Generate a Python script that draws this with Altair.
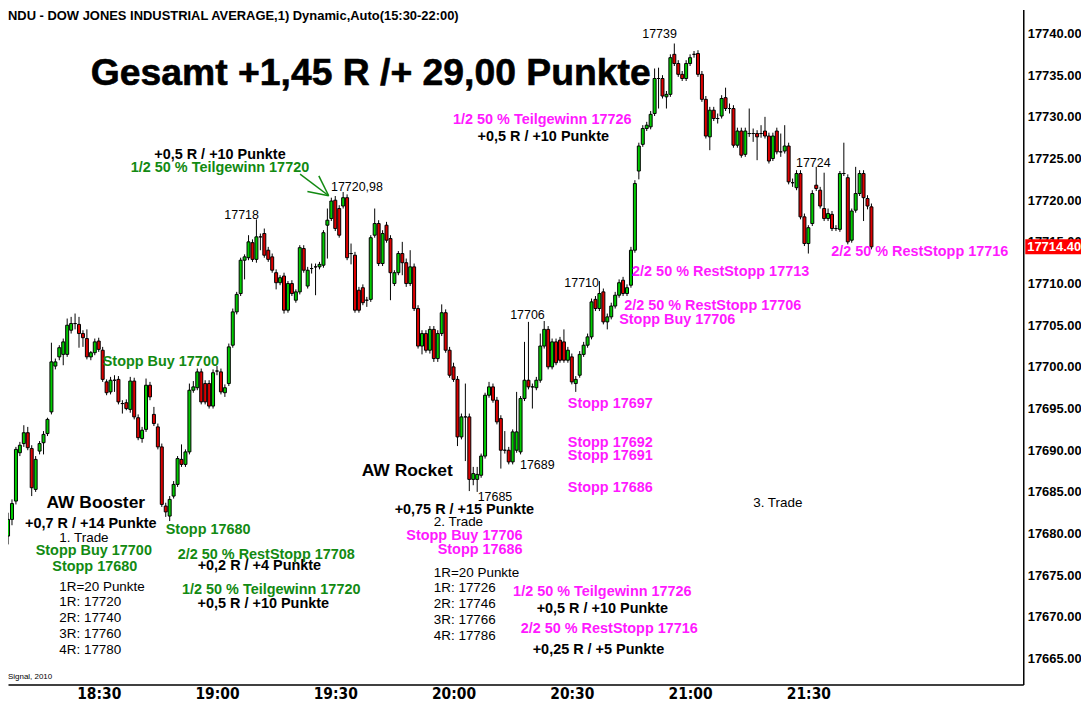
import altair as alt
import pandas as pd

# ---------------- data ----------------
FIRST_BAR = "18:07"   # time of the first 1-minute bar

OPEN = [
    17679.7, 17681.7, 17683.9, 17689.7, 17690.8, 17692.1, 17690.2, 17685.3, 17689.9, 17690.9,
    17692.0, 17694.6, 17700.1, 17701.2, 17701.5, 17701.5, 17704.4, 17705.2, 17705.1, 17704.0,
    17703.4, 17701.2, 17701.7, 17703.1, 17702.0, 17698.2, 17697.0, 17698.4, 17698.5, 17695.6,
    17695.7, 17694.9, 17698.3, 17693.9, 17691.4, 17692.5, 17697.8, 17694.3, 17692.8, 17690.4,
    17683.3, 17682.1, 17684.5, 17685.9, 17688.9, 17688.3, 17689.8, 17697.2, 17697.5, 17699.4,
    17698.0, 17698.0, 17695.3, 17699.5, 17699.4, 17696.9, 17698.0, 17702.6, 17706.6, 17708.8,
    17712.8, 17713.1, 17714.9, 17712.9, 17715.6, 17716.0, 17714.0, 17713.2, 17711.3, 17710.1,
    17710.9, 17706.8, 17710.0, 17708.0, 17709.0, 17714.2, 17709.7, 17711.8, 17712.0, 17712.0,
    17712.2, 17717.0, 17717.8, 17720.0, 17719.0, 17719.3, 17720.3, 17713.6, 17713.4, 17709.2,
    17709.5, 17708.0, 17708.1, 17715.8, 17717.2, 17712.4, 17717.0, 17715.4, 17710.0, 17711.3,
    17713.6, 17712.5, 17710.0, 17712.0, 17707.0, 17702.5, 17704.0, 17702.0, 17704.5, 17701.0,
    17704.0, 17706.5, 17702.0, 17700.0, 17698.5, 17691.6, 17694.0, 17694.0, 17686.5, 17686.5,
    17687.0, 17689.3, 17696.6, 17697.6, 17696.0, 17693.8, 17690.0, 17690.0, 17688.6, 17690.0,
    17689.8, 17696.2, 17698.4, 17697.6, 17697.5, 17698.4, 17702.5, 17704.5, 17700.0, 17703.0,
    17703.2, 17703.0, 17700.8, 17701.2, 17698.0, 17699.0, 17701.5, 17702.6, 17703.6, 17708.1,
    17707.0, 17709.0, 17705.4, 17706.0, 17707.3, 17708.6, 17710.4, 17708.8, 17709.8, 17714.0,
    17723.5, 17726.7, 17728.6, 17728.8, 17730.4, 17734.6, 17734.6, 17732.4, 17732.7, 17737.5,
    17736.4, 17735.1, 17734.6, 17736.4, 17737.5, 17737.6, 17735.1, 17732.1, 17727.6, 17730.8,
    17729.8, 17730.1, 17732.3, 17731.0, 17731.0, 17726.6, 17728.3, 17725.5, 17728.0, 17728.0,
    17728.0, 17728.0, 17728.3, 17727.7, 17725.0, 17728.3, 17725.8, 17725.9, 17726.5, 17722.1,
    17721.5, 17723.2, 17718.0, 17714.8, 17717.2, 17721.8, 17721.2, 17719.0, 17717.8, 17718.3,
    17716.6, 17716.5, 17723.2, 17722.7, 17715.2, 17718.8, 17720.8, 17723.2, 17720.2, 17719.2,
]
HIGH = [
    17682.5, 17684.1, 17690.4, 17691.0, 17693.0, 17692.8, 17690.6, 17689.3, 17691.1, 17692.3,
    17693.9, 17702.9, 17701.0, 17702.6, 17703.4, 17705.8, 17706.0, 17706.4, 17706.0, 17704.4,
    17704.5, 17701.9, 17703.4, 17703.5, 17702.4, 17698.5, 17698.8, 17699.0, 17698.9, 17696.0,
    17696.1, 17698.8, 17698.7, 17694.3, 17692.8, 17698.6, 17698.2, 17695.2, 17693.2, 17690.8,
    17683.7, 17684.5, 17686.3, 17689.3, 17690.7, 17690.1, 17698.0, 17698.3, 17699.8, 17699.8,
    17698.4, 17698.4, 17699.7, 17700.1, 17699.8, 17697.9, 17702.8, 17707.0, 17709.0, 17713.1,
    17713.5, 17715.8, 17715.3, 17717.7, 17716.0, 17716.6, 17714.4, 17713.6, 17711.7, 17711.0,
    17711.3, 17710.3, 17710.4, 17709.3, 17714.6, 17714.6, 17712.0, 17712.4, 17712.4, 17712.6,
    17716.4, 17719.0, 17720.3, 17720.5, 17719.4, 17720.98, 17720.7, 17714.8, 17713.8, 17709.6,
    17709.9, 17708.4, 17715.8, 17719.0, 17717.6, 17716.4, 17717.4, 17715.8, 17711.6, 17713.9,
    17715.0, 17713.0, 17714.0, 17712.4, 17707.4, 17704.4, 17704.4, 17704.9, 17704.9, 17704.4,
    17707.5, 17706.9, 17702.4, 17700.5, 17698.9, 17694.4, 17698.0, 17694.4, 17688.0, 17688.0,
    17689.6, 17696.9, 17698.2, 17698.0, 17696.4, 17694.2, 17692.3, 17690.4, 17692.5, 17697.0,
    17696.5, 17703.0, 17705.4, 17698.0, 17698.8, 17704.0, 17705.5, 17704.9, 17703.4, 17703.4,
    17703.6, 17704.5, 17702.4, 17701.6, 17698.9, 17701.9, 17703.0, 17704.0, 17708.2, 17708.5,
    17710.3, 17709.4, 17706.4, 17707.7, 17709.0, 17710.5, 17710.8, 17709.9, 17714.4, 17722.4,
    17726.9, 17729.0, 17729.4, 17730.7, 17735.8, 17735.9, 17735.0, 17733.1, 17737.5, 17738.8,
    17736.8, 17735.5, 17736.8, 17737.5, 17737.9, 17738.0, 17735.5, 17732.5, 17731.2, 17731.2,
    17730.4, 17732.6, 17733.5, 17731.6, 17731.4, 17728.7, 17728.7, 17728.7, 17731.0, 17728.6,
    17728.4, 17729.0, 17730.0, 17728.1, 17728.1, 17728.7, 17728.0, 17729.0, 17726.9, 17722.6,
    17723.6, 17723.6, 17718.4, 17717.0, 17721.2, 17724.0, 17721.6, 17723.3, 17719.0, 17718.7,
    17717.0, 17723.5, 17726.9, 17723.1, 17719.0, 17724.0, 17723.6, 17723.6, 17720.6, 17719.6,
]
LOW = [
    17678.7, 17681.0, 17683.5, 17689.3, 17690.4, 17690.0, 17684.5, 17685.0, 17689.5, 17689.5,
    17691.7, 17694.3, 17699.7, 17700.8, 17700.2, 17701.2, 17704.0, 17704.5, 17702.3, 17702.4,
    17700.9, 17700.8, 17701.4, 17701.8, 17698.2, 17696.6, 17696.7, 17697.0, 17695.5, 17694.4,
    17694.8, 17694.5, 17693.7, 17691.2, 17690.9, 17692.2, 17696.0, 17692.9, 17690.1, 17683.2,
    17682.0, 17681.5, 17684.2, 17685.6, 17688.0, 17688.0, 17689.5, 17696.9, 17697.2, 17695.5,
    17695.5, 17695.0, 17695.0, 17699.0, 17696.7, 17696.4, 17697.7, 17702.3, 17706.3, 17708.5,
    17710.5, 17712.8, 17712.6, 17712.5, 17714.0, 17713.1, 17712.6, 17711.3, 17709.3, 17709.8,
    17706.4, 17706.5, 17708.5, 17707.7, 17708.7, 17711.3, 17709.4, 17711.2, 17708.6, 17711.7,
    17711.9, 17713.0, 17717.5, 17716.3, 17715.5, 17719.0, 17712.8, 17712.3, 17706.5, 17706.5,
    17707.4, 17707.2, 17707.8, 17715.5, 17712.1, 17712.1, 17714.9, 17708.0, 17709.7, 17711.0,
    17711.0, 17709.6, 17709.7, 17706.7, 17702.2, 17701.5, 17701.7, 17701.6, 17700.6, 17700.6,
    17703.7, 17701.7, 17698.7, 17698.2, 17690.5, 17691.3, 17688.7, 17685.1, 17685.8, 17685.0,
    17686.7, 17689.0, 17696.3, 17695.7, 17693.1, 17687.8, 17689.6, 17688.3, 17688.3, 17689.7,
    17689.5, 17695.9, 17697.3, 17695.0, 17697.2, 17698.1, 17702.2, 17699.7, 17699.7, 17700.2,
    17700.5, 17700.5, 17700.5, 17697.9, 17697.0, 17698.7, 17701.2, 17702.3, 17703.3, 17706.7,
    17706.7, 17705.1, 17704.5, 17705.7, 17707.0, 17708.3, 17708.5, 17708.5, 17709.5, 17713.7,
    17722.5, 17726.4, 17728.3, 17728.5, 17730.1, 17731.0, 17732.2, 17731.0, 17732.4, 17736.1,
    17734.8, 17734.3, 17734.3, 17736.1, 17737.1, 17734.8, 17731.8, 17727.4, 17726.0, 17729.5,
    17729.2, 17729.8, 17730.7, 17730.4, 17726.3, 17726.3, 17725.1, 17725.2, 17727.6, 17727.0,
    17724.8, 17727.5, 17727.4, 17724.4, 17724.7, 17725.5, 17725.2, 17725.6, 17721.9, 17721.6,
    17721.2, 17717.7, 17714.5, 17713.6, 17716.9, 17721.1, 17719.0, 17717.5, 17717.5, 17716.3,
    17716.3, 17716.2, 17722.9, 17714.7, 17714.9, 17718.5, 17720.5, 17717.5, 17718.9, 17714.1,
]
CLOSE = [
    17681.7, 17683.6, 17690.1, 17690.6, 17692.1, 17690.3, 17685.5, 17688.9, 17690.8, 17691.9,
    17693.7, 17700.6, 17700.6, 17702.3, 17703.0, 17705.0, 17705.2, 17705.2, 17704.0, 17703.5,
    17701.2, 17701.7, 17703.0, 17702.1, 17698.5, 17696.9, 17698.4, 17698.4, 17695.8, 17695.6,
    17695.0, 17698.3, 17694.0, 17691.5, 17692.4, 17697.8, 17696.4, 17693.2, 17690.4, 17683.5,
    17682.6, 17684.1, 17685.9, 17689.0, 17688.3, 17689.8, 17697.2, 17697.6, 17699.4, 17695.8,
    17695.8, 17695.3, 17699.3, 17699.5, 17697.0, 17697.5, 17702.4, 17706.6, 17708.7, 17712.8,
    17713.2, 17715.0, 17712.9, 17715.6, 17715.6, 17713.4, 17712.9, 17711.6, 17710.1, 17710.7,
    17706.8, 17710.0, 17708.8, 17709.0, 17714.3, 17711.6, 17711.6, 17711.8, 17712.0, 17712.3,
    17716.1, 17717.6, 17719.9, 17716.6, 17715.8, 17720.3, 17713.1, 17713.6, 17706.8, 17706.8,
    17707.7, 17708.0, 17715.5, 17717.2, 17712.4, 17716.0, 17715.2, 17711.3, 17711.3, 17713.6,
    17712.5, 17710.0, 17712.0, 17707.0, 17702.5, 17704.0, 17702.0, 17704.5, 17701.0, 17704.0,
    17706.5, 17702.0, 17699.0, 17698.5, 17691.6, 17694.0, 17694.0, 17686.5, 17687.2, 17687.1,
    17689.3, 17696.6, 17697.6, 17696.0, 17693.4, 17690.0, 17690.0, 17688.6, 17692.2, 17692.2,
    17696.2, 17698.4, 17697.6, 17697.6, 17698.4, 17702.5, 17704.5, 17700.0, 17703.0, 17700.5,
    17700.8, 17700.8, 17702.0, 17698.2, 17698.5, 17701.5, 17702.6, 17703.6, 17707.8, 17707.0,
    17708.8, 17705.4, 17706.0, 17707.3, 17708.6, 17710.1, 17708.8, 17709.5, 17714.0, 17722.0,
    17726.5, 17728.6, 17729.0, 17730.3, 17734.6, 17734.6, 17732.5, 17732.7, 17737.1, 17736.4,
    17735.1, 17734.6, 17736.4, 17737.1, 17737.5, 17735.1, 17732.1, 17727.7, 17730.8, 17729.8,
    17729.8, 17732.2, 17731.0, 17731.0, 17726.6, 17728.3, 17725.4, 17728.3, 17728.0, 17728.0,
    17727.6, 17728.0, 17727.7, 17724.7, 17727.7, 17725.8, 17725.8, 17726.5, 17722.2, 17722.1,
    17723.2, 17718.0, 17714.8, 17716.7, 17720.8, 17721.4, 17719.3, 17717.8, 17718.4, 17716.6,
    17716.6, 17723.2, 17723.2, 17715.0, 17718.7, 17720.8, 17723.2, 17720.3, 17719.3, 17714.4,
]

LAST_PRICE = 17714.40
X_TICK_MIN = [1110, 1140, 1170, 1200, 1230, 1260, 1290]   # 18:30 ... 21:30
Y_TICKS = [17665, 17670, 17675, 17680, 17685, 17690, 17695, 17700,
           17705, 17710, 17715, 17720, 17725, 17730, 17735, 17740]
HEADER = "NDU - DOW JONES INDUSTRIAL AVERAGE,1) Dynamic,Auto(15:30-22:00)"
FOOTER = "Signal, 2010"

# annotations: text, time (minutes after midnight), price, colour key
K, G, M = "k", "g", "m"
BOLD_TXT = ["+0,5 R / +10 Punkte", "1/2 50 % Teilgewinn 17720", "1/2 50 % Teilgewinn 17726",
            "+0,5 R / +10 Punkte", "2/2 50 % RestStopp 17716", "2/2 50 % RestStopp 17713",
            "2/2 50 % RestStopp 17706", "Stopp Buy 17706", "Stopp Buy 17700", "Stopp 17697",
            "Stopp 17692", "Stopp 17691", "Stopp 17686", "+0,75 R / +15 Punkte",
            "Stopp Buy 17706", "Stopp 17686", "1/2 50 % Teilgewinn 17726", "+0,5 R / +10 Punkte",
            "2/2 50 % RestStopp 17716", "+0,25 R / +5 Punkte", "+0,7 R / +14 Punkte",
            "Stopp Buy 17700", "Stopp 17680", "Stopp 17680", "2/2 50 % RestStopp 17708",
            "+0,2 R / +4 Punkte", "1/2 50 % Teilgewinn 17720", "+0,5 R / +10 Punkte"]
BOLD_T = [1140.75, 1140.75, 1222.5, 1222.75, 1318.25, 1267.75, 1265.75, 1256.75, 1125.75, 1239.75,
          1239.75, 1239.75, 1239.75, 1202.75, 1202.75, 1206.75, 1237.75, 1237.75, 1239.5, 1236.75,
          1108.0, 1108.75, 1109.0, 1137.75, 1152.5, 1150.75, 1153.75, 1151.75]
BOLD_P = [17725.43, 17723.88, 17729.61, 17727.58, 17713.84, 17711.34, 17707.28, 17705.6, 17700.59,
          17695.57, 17690.91, 17689.36, 17685.42, 17682.79, 17679.69, 17678.01, 17673.0, 17670.97,
          17668.58, 17666.07, 17681.12, 17677.9, 17675.98, 17680.4, 17677.42, 17676.1, 17673.24,
          17671.57]
BOLD_C = [K, G, M, K, M, M, M, M, G, M, M, M, M, K, M, M, M, K, M, K, K, G, G, G, G, K, G, K]

TITLE_TXT = ["AW Booster", "AW Rocket"]
TITLE_T = [1109.25, 1188.25]
TITLE_P = [17683.63, 17687.45]

TOTAL_TXT = ["Gesamt +1,45 R /+ 29,00 Punkte"]
TOTAL_T = [1179.0]
TOTAL_P = [17735.1]

NOTE_TXT = ["1. Trade", "2. Trade", "3. Trade", "17720,98", "17718", "17739", "17724",
            "17710", "17706", "17689", "17685"]
NOTE_T = [1106.25, 1201.25, 1282.25, 1175.5, 1146.25, 1252.25, 1291.25, 1232.5, 1218.75,
          1221.25, 1210.5]
NOTE_P = [17679.45, 17681.36, 17683.63, 17721.6, 17718.26, 17739.88, 17724.47, 17710.02,
          17706.2, 17688.17, 17684.35]
NOTE_SIZE = [13.5, 13.5, 13.5, 12.5, 12.5, 12.5, 12.5, 12.5, 12.5, 12.5, 12.5]

R_TXT = ["1R=20 Punkte", "1R: 17720", "2R: 17740", "3R: 17760", "4R: 17780",
         "1R=20 Punkte", "1R: 17726", "2R: 17746", "3R: 17766", "4R: 17786"]
R_T = [1100.0] * 5 + [1195.0] * 5
R_P = [17673.6, 17671.8, 17669.89, 17667.98, 17666.07,
       17675.27, 17673.48, 17671.57, 17669.65, 17667.74]

ARROW_T0 = [1161.08, 1165.83, 1162.93]
ARROW_P0 = [17723.12, 17722.92, 17721.05]
ARROW_T1 = [1168.33, 1168.33, 1168.33]
ARROW_P1 = [17720.53, 17720.53, 17720.53]

# ---------------- styling ----------------
BAR_UP = "#00cc00"
BAR_DN = "#dd0000"
COLORS = {"k": "#000000", "g": "#128a12", "m": "#ff19ff"}
FONT = "Liberation Sans, Arial, sans-serif"
NARROW = "Liberation Sans Narrow, Arial Narrow, DejaVu Sans Condensed, sans-serif"
W, H = 1020, 678

hh, mm = FIRST_BAR.split(":")
t_first = int(hh) * 60 + int(mm)
bars = pd.DataFrame({
    "t": [t_first + i for i in range(len(OPEN))],
    "o": OPEN, "h": HIGH, "l": LOW, "c": CLOSE,
})
bars["dir"] = ["up" if c >= o else "down" for o, c in zip(OPEN, CLOSE)]

XS = alt.Scale(domain=[1088.25, 1343.25], nice=False, zero=False)
YS = alt.Scale(domain=[17661.895, 17742.866], nice=False, zero=False)

XAX = alt.Axis(values=X_TICK_MIN, title=None, grid=False, ticks=False,
               labelExpr="format(floor(datum.value/60),'d') + ':' + format(datum.value % 60,'02d')",
               domainColor="#000000", domainWidth=1.5, labelFont=NARROW, labelFontSize=15.5,
               labelFontWeight="bold", labelColor="#000000", labelPadding=2, labelFlush=False)
YAX = alt.Axis(orient="right", values=Y_TICKS, format=".2f", title=None, grid=False, ticks=False,
               domainColor="#000000", domainWidth=1.5, labelFont=FONT, labelFontSize=13,
               labelFontWeight="bold", labelColor="#000000", labelPadding=4, labelFlush=False)


def X(field):
    return alt.X(f"{field}:Q", scale=XS, axis=XAX)


def Y(field):
    return alt.Y(f"{field}:Q", scale=YS, axis=YAX)


base = alt.Chart(bars)
wicks = base.mark_rule(color="#000000", strokeWidth=1, clip=True).encode(
    x=X("t"), y=Y("l"), y2="h")
bodies = base.mark_bar(size=3, stroke="#000000", strokeWidth=1, clip=True).encode(
    x=X("t"), y=Y("o"), y2="c",
    color=alt.Color("dir:N", scale=alt.Scale(domain=["up", "down"], range=[BAR_UP, BAR_DN]),
                    legend=None))

bold_df = pd.DataFrame({"txt": BOLD_TXT, "t": BOLD_T, "p": BOLD_P,
                        "col": [COLORS[c] for c in BOLD_C]})
bold_layer = alt.Chart(bold_df).mark_text(font=FONT, fontSize=14.5, fontWeight="bold",
                                          align="center", baseline="middle").encode(
    x=X("t"), y=Y("p"), text="txt:N", color=alt.Color("col:N", scale=None))

title_layer = alt.Chart(pd.DataFrame({"txt": TITLE_TXT, "t": TITLE_T, "p": TITLE_P})).mark_text(
    font=FONT, fontSize=17.5, fontWeight="bold", align="center", baseline="middle",
    color="#000000").encode(x=X("t"), y=Y("p"), text="txt:N")

total_layer = alt.Chart(pd.DataFrame({"txt": TOTAL_TXT, "t": TOTAL_T, "p": TOTAL_P})).mark_text(
    font=FONT, fontSize=37.5, fontWeight="bold", align="center", baseline="middle",
    color="#000000", stroke="#000000", strokeWidth=0.6).encode(
    x=X("t"), y=Y("p"), text="txt:N")

note_layer = alt.Chart(pd.DataFrame({"txt": NOTE_TXT, "t": NOTE_T, "p": NOTE_P,
                                     "s": NOTE_SIZE})).mark_text(
    font=FONT, align="center", baseline="middle", color="#000000").encode(
    x=X("t"), y=Y("p"), text="txt:N", size=alt.Size("s:Q", scale=None))

r_layer = alt.Chart(pd.DataFrame({"txt": R_TXT, "t": R_T, "p": R_P})).mark_text(
    font=FONT, fontSize=13.5, align="left", baseline="middle", color="#000000").encode(
    x=X("t"), y=Y("p"), text="txt:N")

arrow_layer = alt.Chart(pd.DataFrame({"t0": ARROW_T0, "p0": ARROW_P0,
                                      "t1": ARROW_T1, "p1": ARROW_P1})).mark_rule(
    color="#128a12", strokeWidth=1.5).encode(x=X("t0"), y=Y("p0"), x2="t1", y2="p1")

header_layer = alt.Chart(pd.DataFrame({"txt": [HEADER]})).mark_text(
    font=FONT, fontSize=13, fontWeight="bold", align="left", baseline="top",
    color="#000000").encode(x=alt.value(0), y=alt.value(0), text="txt:N")

footer_layer = alt.Chart(pd.DataFrame({"txt": [FOOTER]})).mark_text(
    font=FONT, fontSize=8, align="left", baseline="middle", color="#000000").encode(
    x=alt.value(0), y=alt.value(671), text="txt:N")

last_df = pd.DataFrame({"p": [LAST_PRICE], "txt": [f"{LAST_PRICE:.2f}"]})
last_box = alt.Chart(last_df).transform_calculate(
    top="datum.p + 0.9", bot="datum.p - 0.9").mark_rect(color="#ff0000").encode(
    x=alt.value(1022), x2=alt.value(1078), y=Y("top"), y2="bot")
last_txt = alt.Chart(last_df).mark_text(font=FONT, fontSize=13, fontWeight="bold",
                                        align="left", baseline="middle",
                                        color="#ffffff").encode(
    x=alt.value(1024), y=Y("p"), text="txt:N")

chart = alt.layer(
    wicks, bodies, arrow_layer, bold_layer, title_layer, total_layer, note_layer, r_layer,
    header_layer, footer_layer, last_box, last_txt,
).properties(
    width=W, height=H,
    autosize=alt.AutoSizeParams(type="none"),
    padding={"left": 0, "top": 0, "right": 58, "bottom": 20},
    background="#ffffff",
).configure_view(strokeWidth=0)

chart.save("out.html", embed_options={"renderer": "svg", "actions": False})
